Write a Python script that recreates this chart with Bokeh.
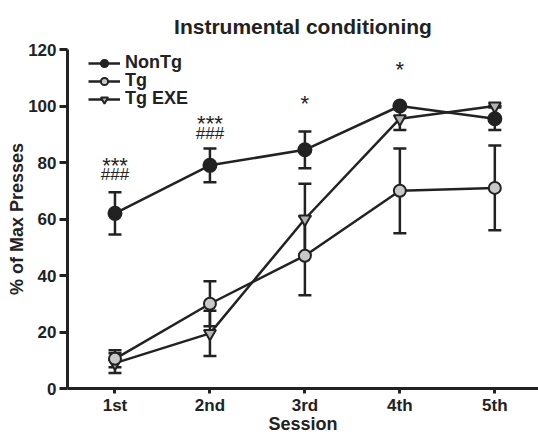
from bokeh.plotting import figure
from bokeh.models import Range1d, ColumnDataSource, Whisker, TeeHead, FixedTicker, Legend, LegendItem
from bokeh.core.properties import value
from bokeh.embed import file_html
from bokeh.resources import INLINE

sessions = [1, 2, 3, 4, 5]
session_labels = ["1st", "2nd", "3rd", "4th", "5th"]

nontg_mean = [62, 79, 84.5, 100, 95.5]
nontg_err = [7.5, 6, 6.5, 0, 4]
tg_mean = [10.5, 30, 47, 70, 71]
tg_err = [3, 8, 14, 15, 15]
tgexe_mean = [9, 19.5, 60, 95.5, 100]
tgexe_err = [3.5, 8, 12.5, 4, 0]

star_x = [1, 2, 3, 4]
star_y = [78.8, 93.9, 101, 112.9]
star_text = ["***", "***", "*", "*"]
hash_x = [1, 2]
hash_y = [75.7, 90.4]
hash_text = ["###", "###"]

FONT = "Liberation Sans"
INK = "#222222"
FRAME_H = 339

p = figure(width=538, height=438, output_backend="svg", toolbar_location=None,
           x_range=Range1d(0.5, 5.46), y_range=Range1d(0, 120),
           min_border_left=67, min_border_right=0, min_border_top=49, min_border_bottom=50,
           title="Instrumental conditioning")
p.title.align = "center"
p.title.text_font = FONT
p.title.text_font_size = "21px"
p.title.text_font_style = "bold"
p.title.text_color = INK
p.title.standoff = 24
p.outline_line_color = None
p.grid.visible = False
p.background_fill_color = "white"

for ax in (p.xaxis[0], p.yaxis[0]):
    ax.axis_line_width = 3
    ax.axis_line_color = INK
    ax.major_tick_line_width = 3
    ax.major_tick_line_color = INK
    ax.major_tick_in = 0
    ax.minor_tick_line_color = None
    ax.major_label_text_font = FONT
    ax.major_label_text_font_size = "17px"
    ax.major_label_text_font_style = "bold"
    ax.major_label_text_color = INK
    ax.axis_label_text_font = FONT
    ax.axis_label_text_font_size = "18px"
    ax.axis_label_text_font_style = "bold"
    ax.axis_label_text_color = INK

p.xaxis.ticker = FixedTicker(ticks=sessions)
p.xaxis.major_label_overrides = {s: l for s, l in zip(sessions, session_labels)}
p.xaxis.axis_label = "Session"
p.xaxis.major_tick_out = 5
p.xaxis.axis_label_standoff = -4
p.xaxis.major_label_standoff = 2
p.yaxis.ticker = FixedTicker(ticks=[0, 20, 40, 60, 80, 100, 120])
p.yaxis.axis_label = "% of Max Presses"
p.yaxis.major_tick_out = 8
p.yaxis.axis_label_standoff = -2
p.yaxis.major_label_standoff = 3

series = [
    ("NonTg", nontg_mean, nontg_err, "circle", INK, 13),
    ("Tg", tg_mean, tg_err, "circle", "#c8c8c8", 12),
    ("Tg EXE", tgexe_mean, tgexe_err, "inverted_triangle", "#b4b4b4", 12),
]

for name, m, e, marker, fill, size in reversed(series):
    src = ColumnDataSource(dict(x=sessions, y=m,
                                lo=[a - b for a, b in zip(m, e)],
                                hi=[a + b for a, b in zip(m, e)]))
    w = Whisker(source=src, base="x", upper="hi", lower="lo", line_width=2.5, line_color=INK,
                upper_head=TeeHead(size=13, line_width=2.5, line_color=INK),
                lower_head=TeeHead(size=13, line_width=2.5, line_color=INK))
    p.add_layout(w)

items = []
for name, m, e, marker, fill, size in reversed(series):
    src = ColumnDataSource(dict(x=sessions, y=m))
    l = p.line("x", "y", source=src, line_width=2.5, line_color=INK)
    s = p.scatter("x", "y", source=src, marker=marker, size=size, fill_color=fill,
                  line_color=INK, line_width=2)
    items.insert(0, LegendItem(label=name, renderers=[l, s]))

p.text(x=star_x, y=star_y, text=star_text, text_align="center", text_baseline="middle",
       text_font=value(FONT), text_font_size="22px", text_color=INK)
p.text(x=hash_x, y=hash_y, text=hash_text, text_align="center", text_baseline="middle",
       text_font=value(FONT), text_font_size="17px", text_color=INK)

# one legend per row so the rows sit 18px apart as in the reference
row_tops = [2, 20, 38]
for item, top in zip(items, row_tops):
    leg = Legend(items=[item], location=(21, FRAME_H - top - 22), padding=0, margin=0, spacing=0,
                 label_height=18, glyph_height=18, glyph_width=32, label_standoff=5,
                 border_line_alpha=0, background_fill_alpha=0,
                 label_text_font=FONT, label_text_font_size="18px",
                 label_text_font_style="bold", label_text_color=INK)
    p.add_layout(leg)

open("out.html", "w").write(file_html(p, INLINE))
